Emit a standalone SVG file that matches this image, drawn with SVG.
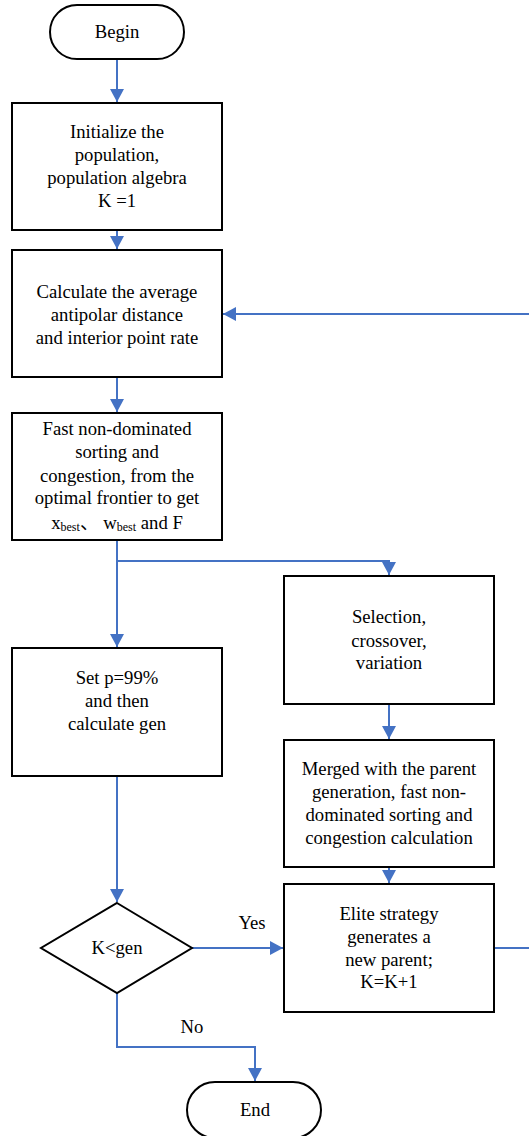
<svg xmlns="http://www.w3.org/2000/svg" width="529" height="1136" viewBox="0 0 529 1136">
<style>
.n{fill:#fff;stroke:#000;stroke-width:2}
.t{font-family:'Times New Roman','Liberation Serif','DejaVu Serif',serif;font-size:18.7px;fill:#000;text-anchor:middle}
.c{fill:none;stroke:#4472C4;stroke-width:2}
</style>
<defs>
<marker id="a" markerUnits="userSpaceOnUse" markerWidth="14" markerHeight="14" refX="13" refY="7" orient="auto">
<path d="M0,0 L13,7 L0,14 Z" fill="#4472C4"/>
</marker>
</defs>
<g id="connectors">
<path class="c" d="M117,59 V102" marker-end="url(#a)"/>
<path class="c" d="M117,230 V249" marker-end="url(#a)"/>
<path class="c" d="M117,377 V412" marker-end="url(#a)"/>
<path class="c" d="M117,540 V647" marker-end="url(#a)"/>
<path class="c" d="M117,561 H389 V575" marker-end="url(#a)"/>
<path class="c" d="M389,704 V739" marker-end="url(#a)"/>
<path class="c" d="M389,867 V883" marker-end="url(#a)"/>
<path class="c" d="M117,776 V902" marker-end="url(#a)"/>
<path class="c" d="M192,948 H283" marker-end="url(#a)"/>
<path class="c" d="M117,993 V1047 H255 V1081" marker-end="url(#a)"/>
<path class="c" d="M494,948 H532 V314 H223" marker-end="url(#a)"/>
<text class="t" x="252" y="929">Yes</text>
<text class="t" x="192" y="1033">No</text>
</g>
<g id="begin">
<rect class="n" x="50" y="5" width="134" height="54" rx="27"/>
<text class="t" x="117" y="38">Begin</text>
</g>
<g id="init">
<rect class="n" x="12" y="103" width="210" height="127"/>
<text class="t" x="117" y="138">Initialize the</text>
<text class="t" x="117" y="161">population,</text>
<text class="t" x="117" y="184">population algebra</text>
<text class="t" x="117" y="207">K =1</text>
</g>
<g id="calc">
<rect class="n" x="12" y="250" width="210" height="127"/>
<text class="t" x="117" y="298">Calculate the average</text>
<text class="t" x="117" y="321">antipolar distance</text>
<text class="t" x="117" y="344">and interior point rate</text>
</g>
<g id="sort">
<rect class="n" x="12" y="413" width="210" height="127"/>
<text class="t" x="117" y="435">Fast non-dominated</text>
<text class="t" x="117" y="458">sorting and</text>
<text class="t" x="117" y="482">congestion, from the</text>
<text class="t" x="117" y="504">optimal frontier to get</text>
<text class="t" x="117" y="529">x<tspan font-size="12" dy="2">best</tspan><tspan dy="-2" font-family="'Noto Sans CJK SC',sans-serif">、</tspan><tspan> w</tspan><tspan font-size="12" dy="2">best</tspan><tspan dy="-2"> and F</tspan></text>
</g>
<g id="setp">
<rect class="n" x="12" y="648" width="210" height="128"/>
<text class="t" x="117" y="684">Set p=99%</text>
<text class="t" x="117" y="707">and then</text>
<text class="t" x="117" y="730">calculate gen</text>
</g>
<g id="select">
<rect class="n" x="284" y="576" width="210" height="128"/>
<text class="t" x="389" y="623">Selection,</text>
<text class="t" x="389" y="647">crossover,</text>
<text class="t" x="389" y="669">variation</text>
</g>
<g id="merge">
<rect class="n" x="284" y="740" width="210" height="127"/>
<text class="t" x="389" y="775">Merged with the parent</text>
<text class="t" x="389" y="798">generation, fast non-</text>
<text class="t" x="389" y="821">dominated sorting and</text>
<text class="t" x="389" y="844">congestion calculation</text>
</g>
<g id="elite">
<rect class="n" x="284" y="884" width="210" height="128"/>
<text class="t" x="389" y="920">Elite strategy</text>
<text class="t" x="389" y="943">generates a</text>
<text class="t" x="389" y="966">new parent;</text>
<text class="t" x="389" y="988">K=K+1</text>
</g>
<g id="decision">
<polygon class="n" points="117,903 192,948 117,993 41,948"/>
<text class="t" x="117" y="954">K&lt;gen</text>
</g>
<g id="end">
<rect class="n" x="187" y="1082" width="134" height="56" rx="28"/>
<text class="t" x="255" y="1116">End</text>
</g>
</svg>
